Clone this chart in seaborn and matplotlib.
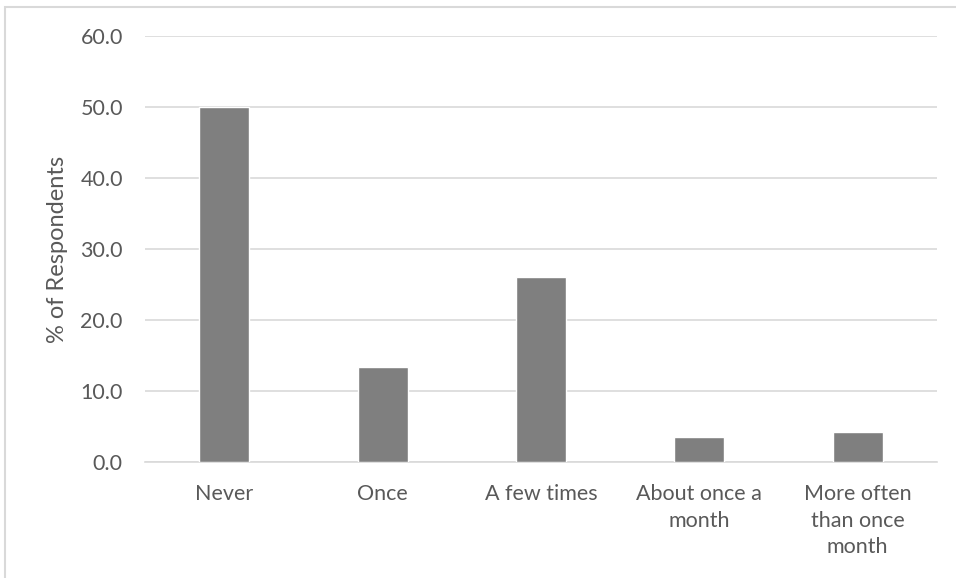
import matplotlib
matplotlib.use("Agg")
import matplotlib.pyplot as plt
import seaborn as sns
import pandas as pd
from matplotlib.patches import Rectangle

categories = ["Never", "Once", "A few times", "About once a\nmonth",
              "More often\nthan once\nmonth"]
percentages = [50.0, 13.4, 26.0, 3.5, 4.2]
y_ticks = [0, 10, 20, 30, 40, 50, 60]

df = pd.DataFrame({"category": categories, "pct": percentages})

sns.set_style("white")
plt.rcParams["font.family"] = ["Lato", "DejaVu Sans"]

text_col = "#595959"
grid_col = "#d9d9d9"

fig = plt.figure(figsize=(9.56, 5.78), dpi=100)
ax = fig.add_axes([0.1517, 0.2007, 0.980 - 0.1517, 0.9377 - 0.2007])

sns.barplot(data=df, x="category", y="pct", color="#7f7f7f", saturation=1,
            width=0.316, ax=ax, zorder=3)

ax.set_ylim(0, 60)
ax.set_yticks(y_ticks)
ax.set_yticklabels([f"{v:.1f}" for v in y_ticks])
ax.yaxis.grid(True, color=grid_col, linewidth=1.2, zorder=0)
ax.set_axisbelow(True)
for s in ["top", "right", "left"]:
    ax.spines[s].set_visible(False)
ax.spines["bottom"].set_color(grid_col)
ax.spines["bottom"].set_linewidth(1.2)
ax.tick_params(axis="both", length=0, labelsize=15.5, colors=text_col)
ax.tick_params(axis="y", pad=16)
ax.tick_params(axis="x", pad=16)
for lbl in ax.get_xticklabels():
    lbl.set_linespacing(1.4)
ax.set_xlabel("")
ax.set_ylabel("% of Respondents", fontsize=17, color=text_col, labelpad=9)

# chart border (excel style)
fig.patches.append(Rectangle((5 / 956, -0.1), 1.2, 1 - 7 / 578 + 0.1,
                             transform=fig.transFigure, fill=False,
                             edgecolor=grid_col, linewidth=1.5))

fig.savefig("out.png", dpi=100)
